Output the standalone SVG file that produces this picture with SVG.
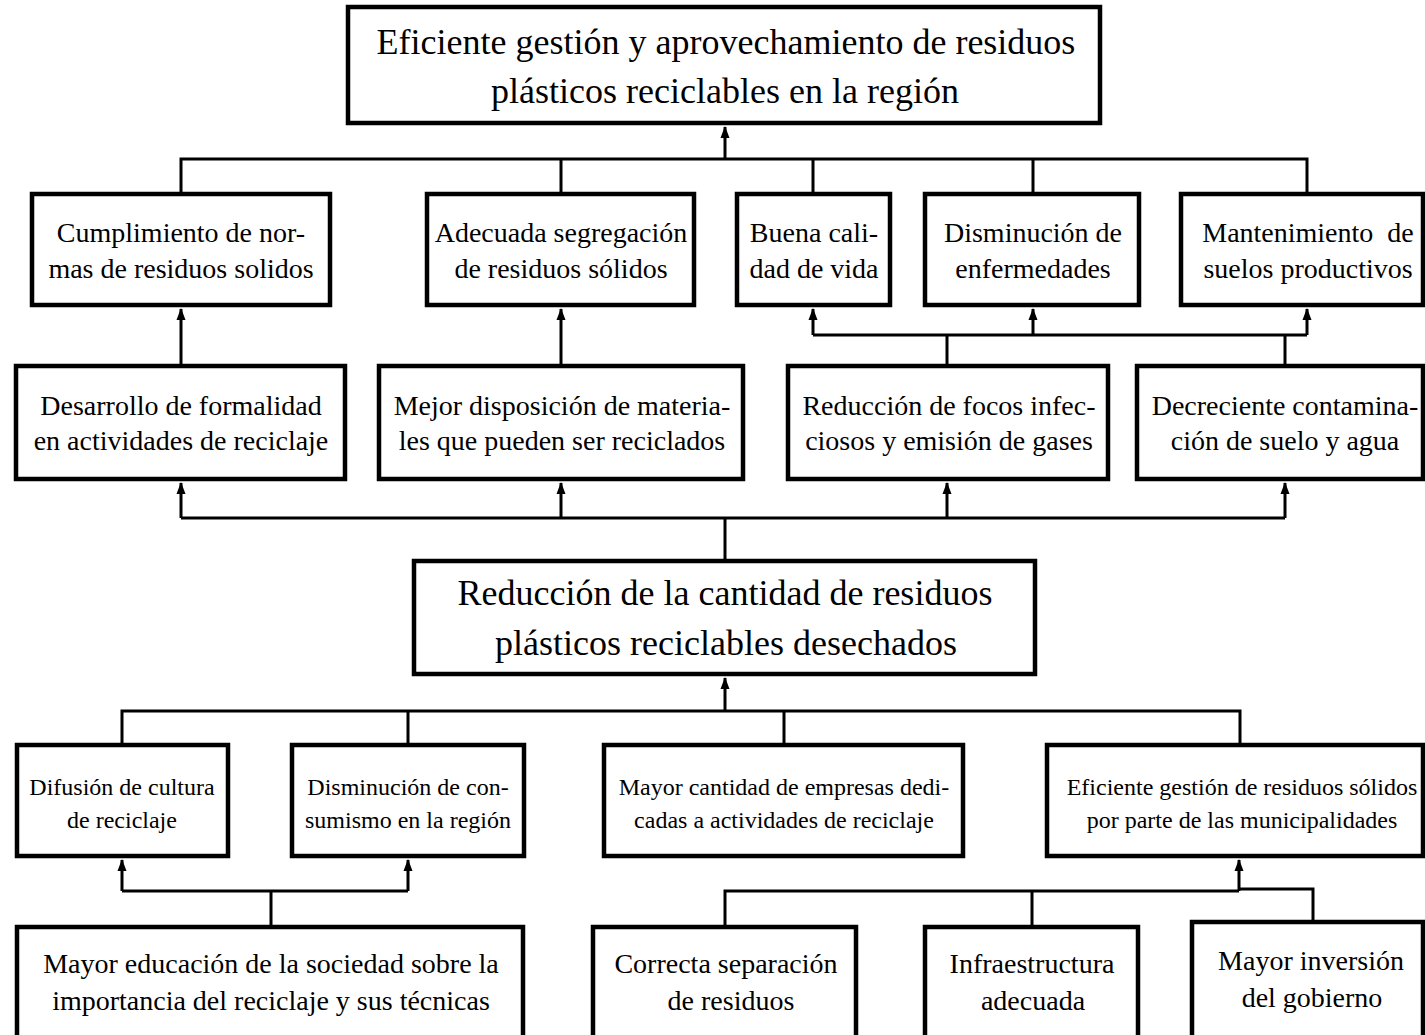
<svg xmlns="http://www.w3.org/2000/svg" width="1425" height="1035" viewBox="0 0 1425 1035">
<defs>
<style>
.box{fill:#fff;stroke:#000;stroke-width:4.5}
.c{fill:none;stroke:#000;stroke-width:3}
.a{fill:none;stroke:#000;stroke-width:3;marker-end:url(#ah)}
text{font-family:"Liberation Serif","Times New Roman",serif;fill:#000;text-anchor:middle}
.t36{font-size:36px}
.t28{font-size:28px}
.t24{font-size:24px}
</style>
<marker id="ah" viewBox="0 0 12 10" refX="11" refY="5" markerWidth="12" markerHeight="10" orient="auto" markerUnits="userSpaceOnUse">
<path d="M0,0.5 L12,5 L0,9.5 z" fill="#000"/>
</marker>
</defs>
<rect width="1425" height="1035" fill="#fff"/>

<g id="connectors">
<path class="a" d="M725,159 V127"/>
<path class="c" d="M181,192 V159 H1307 V192 M561,159 V192 M813,159 V192 M1033,159 V192"/>
<path class="a" d="M181,364 V309"/>
<path class="a" d="M561,364 V309"/>
<path class="c" d="M947,364 V335 M1285,364 V335 M813,335 H1307"/>
<path class="a" d="M813,335 V309"/>
<path class="a" d="M1033,335 V309"/>
<path class="a" d="M1307,335 V309"/>
<path class="c" d="M725,559 V518 M181,518 H1285"/>
<path class="a" d="M181,518 V483"/>
<path class="a" d="M561,518 V483"/>
<path class="a" d="M947,518 V483"/>
<path class="a" d="M1285,518 V483"/>
<path class="a" d="M725,711 V678"/>
<path class="c" d="M122,743 V711 H1240 V743 M408,711 V743 M784,711 V743"/>
<path class="c" d="M122,891 H408 M271,891 V925"/>
<path class="a" d="M122,891 V860"/>
<path class="a" d="M408,891 V860"/>
<path class="c" d="M725,925 V891 H1239 M1032,891 V925 M1239,889 H1313 V920"/>
<path class="a" d="M1239,891 V860"/>
</g>

<g id="n-top">
<rect class="box" x="348" y="7" width="752" height="116"/>
<text class="t36" x="726" y="54">Eficiente gestión y aprovechamiento de residuos</text>
<text class="t36" x="725" y="103">plásticos reciclables en la región</text>
</g>

<g id="n-cumplimiento">
<rect class="box" x="32" y="194" width="298" height="111"/>
<text class="t28" x="181" y="242">Cumplimiento de nor-</text>
<text class="t28" x="181" y="278">mas de residuos solidos</text>
</g>
<g id="n-adecuada">
<rect class="box" x="427" y="194" width="267" height="111"/>
<text class="t28" x="561" y="242">Adecuada segregación</text>
<text class="t28" x="561" y="278">de residuos sólidos</text>
</g>
<g id="n-buena">
<rect class="box" x="737" y="194" width="153" height="111"/>
<text class="t28" x="814" y="242">Buena cali-</text>
<text class="t28" x="814" y="278">dad de vida</text>
</g>
<g id="n-disminucion-enf">
<rect class="box" x="925" y="194" width="214" height="111"/>
<text class="t28" x="1033" y="242">Disminución de</text>
<text class="t28" x="1033" y="278">enfermedades</text>
</g>
<g id="n-mantenimiento">
<rect class="box" x="1181" y="194" width="242" height="111"/>
<text class="t28" x="1308" y="242" xml:space="preserve">Mantenimiento  de</text>
<text class="t28" x="1308" y="278">suelos productivos</text>
</g>

<g id="n-desarrollo">
<rect class="box" x="16" y="366" width="329" height="113"/>
<text class="t28" x="181" y="415">Desarrollo de formalidad</text>
<text class="t28" x="181" y="450">en actividades de reciclaje</text>
</g>
<g id="n-mejor">
<rect class="box" x="379" y="366" width="364" height="113"/>
<text class="t28" x="562" y="415">Mejor disposición de materia-</text>
<text class="t28" x="562" y="450">les que pueden ser reciclados</text>
</g>
<g id="n-reduccion-focos">
<rect class="box" x="788" y="366" width="320" height="113"/>
<text class="t28" x="949" y="415">Reducción de focos infec-</text>
<text class="t28" x="949" y="450">ciosos y emisión de gases</text>
</g>
<g id="n-decreciente">
<rect class="box" x="1137" y="366" width="286" height="113"/>
<text class="t28" x="1285" y="415">Decreciente contamina-</text>
<text class="t28" x="1285" y="450">ción de suelo y agua</text>
</g>

<g id="n-central">
<rect class="box" x="414" y="561" width="621" height="113"/>
<text class="t36" x="725" y="605">Reducción de la cantidad de residuos</text>
<text class="t36" x="726" y="655">plásticos reciclables desechados</text>
</g>

<g id="n-difusion">
<rect class="box" x="17" y="745" width="211" height="111"/>
<text class="t24" x="122" y="795">Difusión de cultura</text>
<text class="t24" x="122" y="828">de reciclaje</text>
</g>
<g id="n-consumismo">
<rect class="box" x="292" y="745" width="232" height="111"/>
<text class="t24" x="408" y="795">Disminución de con-</text>
<text class="t24" x="408" y="828">sumismo en la región</text>
</g>
<g id="n-empresas">
<rect class="box" x="604" y="745" width="359" height="111"/>
<text class="t24" x="784" y="795">Mayor cantidad de empresas dedi-</text>
<text class="t24" x="784" y="828">cadas a actividades de reciclaje</text>
</g>
<g id="n-municipal">
<rect class="box" x="1047" y="745" width="376" height="111"/>
<text class="t24" x="1242" y="795">Eficiente gestión de residuos sólidos</text>
<text class="t24" x="1242" y="828">por parte de las municipalidades</text>
</g>

<g id="n-educacion">
<rect class="box" x="17" y="927" width="506" height="150"/>
<text class="t28" x="271" y="973">Mayor educación de la sociedad sobre la</text>
<text class="t28" x="271" y="1010">importancia del reciclaje y sus técnicas</text>
</g>
<g id="n-separacion">
<rect class="box" x="593" y="927" width="263" height="150"/>
<text class="t28" x="726" y="973">Correcta separación</text>
<text class="t28" x="731" y="1010">de residuos</text>
</g>
<g id="n-infraestructura">
<rect class="box" x="925" y="927" width="213" height="150"/>
<text class="t28" x="1032" y="973">Infraestructura</text>
<text class="t28" x="1033" y="1010">adecuada</text>
</g>
<g id="n-inversion">
<rect class="box" x="1192" y="922" width="231" height="150"/>
<text class="t28" x="1311" y="970">Mayor inversión</text>
<text class="t28" x="1312" y="1007">del gobierno</text>
</g>
</svg>
